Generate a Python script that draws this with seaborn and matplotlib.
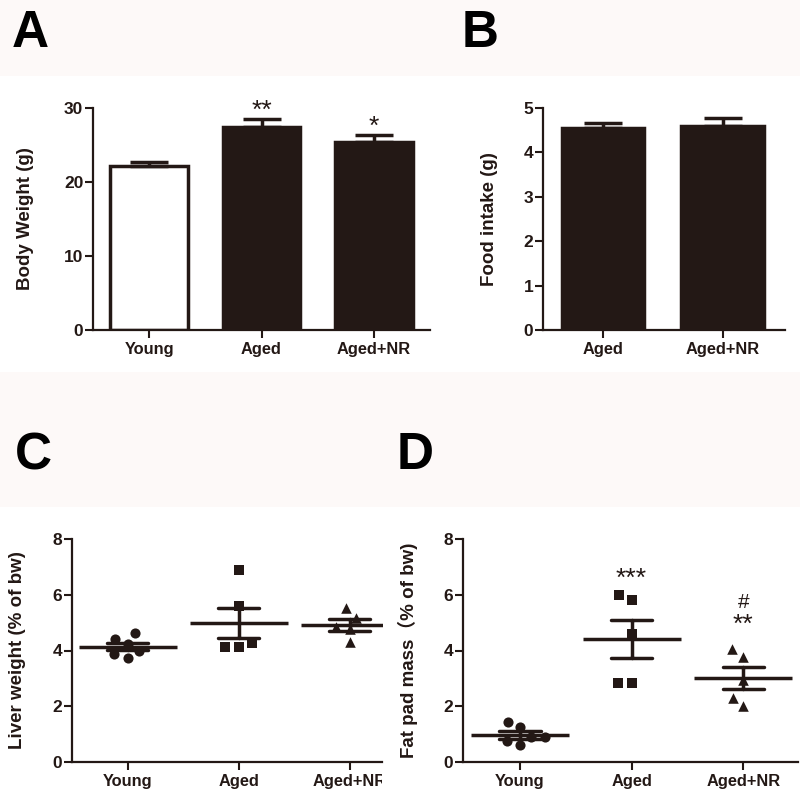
import numpy as np
import pandas as pd
import matplotlib
matplotlib.use("Agg")
import matplotlib.pyplot as plt
import seaborn as sns
from matplotlib.patches import Rectangle
from matplotlib.transforms import Bbox

# ---------------- data ----------------
groups = ["Young", "Aged", "Aged+NR"]
body_weight_mean = [22.2, 27.4, 25.4]
body_weight_sem = [0.5, 1.1, 1.0]
body_weight_sig = ["", "**", "*"]

food_groups = ["Aged", "Aged+NR"]
food_intake_mean = [4.56, 4.59]
food_intake_sem = [0.10, 0.19]

liver_young = [4.62, 4.41, 3.99, 3.74, 3.86, 4.22]
liver_aged = [6.87, 5.60, 4.26, 4.11, 4.14]
liver_aged_nr = [5.18, 5.52, 4.86, 4.76, 4.29]

fat_young = [1.44, 1.24, 0.88, 0.60, 0.76, 0.90]
fat_aged = [5.82, 6.00, 4.58, 2.84, 2.84]
fat_aged_nr = [3.78, 4.04, 2.94, 2.30, 2.01]
fat_sig_star = ["", "***", "**"]
fat_sig_hash = ["", "", "#"]

# ---------------- style ----------------
DARK = "#231815"
BAND = "#fdf9f8"
sns.set_theme(style="white")
plt.rcParams["font.family"] = ["Liberation Sans", "Noto Sans CJK SC", "DejaVu Sans"]
plt.rcParams["axes.edgecolor"] = DARK
plt.rcParams["text.color"] = DARK
plt.rcParams["xtick.color"] = DARK
plt.rcParams["ytick.color"] = DARK

W = H = 800
fig = plt.figure(figsize=(8, 8), dpi=100)
fig.patch.set_facecolor("white")

fig.add_artist(Rectangle((0, 1 - 76 / H), 1, 76 / H, transform=fig.transFigure,
                         facecolor=BAND, edgecolor="none", zorder=0))
fig.add_artist(Rectangle((0, 1 - 507 / H), 1, (507 - 372) / H, transform=fig.transFigure,
                         facecolor=BAND, edgecolor="none", zorder=0))


def add_ax(l, t, r, b):
    ax = fig.add_axes([l / W, 1 - b / H, (r - l) / W, (b - t) / H])
    ax.set_facecolor("none")
    return ax


def style_ax(ax, ylabel, label_right_px, l, r):
    sns.despine(ax=ax)
    for s in ("left", "bottom"):
        ax.spines[s].set_linewidth(1.6)
        ax.spines[s].set_color(DARK)
    ax.tick_params(axis="both", direction="out", length=5.5, width=1.5, color=DARK)
    ax.tick_params(axis="y", labelsize=12.5, pad=1.5, left=True)
    ax.tick_params(axis="x", labelsize=11.8, pad=3, bottom=True)
    for t in ax.get_xticklabels() + ax.get_yticklabels():
        t.set_fontweight("bold")
        t.set_color(DARK)
    ax.set_xlabel("")
    ax.set_ylabel(ylabel, fontsize=13.5, fontweight="bold", color=DARK)
    ax.yaxis.set_label_coords((label_right_px - l) / (r - l), 0.5)


def bar_panel(ax, cats, means, sems, fills):
    sns.barplot(x=cats, y=means, hue=cats, palette=fills, order=cats,
                edgecolor=DARK, linewidth=2.5, width=0.69, legend=False,
                errorbar=None, ax=ax, saturation=1)
    xs = [p.get_x() + p.get_width() / 2 for p in ax.patches]
    ax.errorbar(xs, means, yerr=[np.zeros(len(sems)), sems], fmt="none",
                ecolor=DARK, elinewidth=2.5, capsize=14, capthick=2.5, zorder=1)


def annotate(ax, x, y, s, fs):
    ax.annotate(s, xy=(x, y), xytext=(0, -0.39 * fs), textcoords="offset points",
                ha="center", va="baseline", fontsize=fs, color=DARK, annotation_clip=False)


def scatter_panel(ax, data_lists):
    df = pd.concat([pd.DataFrame({"group": g, "value": v}) for g, v in zip(groups, data_lists)])
    for g, v, m, sz in zip(groups, data_lists, ["o", "s", "^"], [7.3, 6.6, 7.6]):
        sub = pd.DataFrame({"group": g, "value": v})
        # an invisible edge widens the spacing of the swarm columns
        sns.swarmplot(data=sub, x="group", y="value", order=groups, marker=m,
                      color=DARK, size=sz, linewidth=9.4 - sz,
                      edgecolor=(1, 1, 1, 0), ax=ax)
    sns.pointplot(data=df, x="group", y="value", order=groups, errorbar="se",
                  capsize=0.37, linestyle="none", marker="_", markersize=70,
                  markeredgewidth=2.5, color=DARK, err_kws={"linewidth": 2.5}, ax=ax)


# ---------------- Panel A ----------------
LA, TA, RA, BA = 93, 108, 430, 330
axA = add_ax(LA, TA, RA, BA)
bar_panel(axA, groups, body_weight_mean, body_weight_sem, ["white", DARK, DARK])
axA.set_ylim(0, 30)
axA.set_xlim(-0.5, 2.5)
axA.set_yticks([0, 10, 20, 30])
for i, s in enumerate(body_weight_sig):
    if s:
        annotate(axA, i, body_weight_mean[i] + body_weight_sem[i] + 1.5, s, 19)
style_ax(axA, "Body Weight (g)", 34, LA, RA)

# ---------------- Panel B ----------------
LB, TB, RB, BB = 543, 108, 785, 330
axB = add_ax(LB, TB, RB, BB)
bar_panel(axB, food_groups, food_intake_mean, food_intake_sem, [DARK, DARK])
axB.set_ylim(0, 5)
axB.set_xlim(-0.5, 1.52)
axB.set_yticks([0, 1, 2, 3, 4, 5])
style_ax(axB, "Food intake (g)", 498, LB, RB)

# ---------------- Panel C ----------------
LC, TC, RC, BC = 72, 539, 382, 762
axC = add_ax(LC, TC, RC, BC)
scatter_panel(axC, [liver_young, liver_aged, liver_aged_nr])
axC.set_ylim(0, 8)
axC.set_xlim(-0.5, 2.29)
axC.set_yticks([0, 2, 4, 6, 8])
style_ax(axC, "Liver weight (% of bw)", 26, LC, RC)

# ---------------- Panel D ----------------
LD, TD, RD, BD = 463, 539, 798, 762
axD = add_ax(LD, TD, RD, BD)
fat_lists = [fat_young, fat_aged, fat_aged_nr]
scatter_panel(axD, fat_lists)
axD.set_ylim(0, 8)
axD.set_xlim(-0.51, 2.49)
axD.set_yticks([0, 2, 4, 6, 8])
for i in range(3):
    top = max(fat_lists[i])
    if fat_sig_star[i]:
        annotate(axD, i, top + (0.7 if i == 1 else 0.98), fat_sig_star[i], 19)
    if fat_sig_hash[i]:
        axD.annotate(fat_sig_hash[i], xy=(i, top + 1.69), ha="center", va="center",
                     fontsize=15, color=DARK, annotation_clip=False)
style_ax(axD, "Fat pad mass（% of bw)", 418, LD, RD)

# ---------------- panel letters ----------------
for letter, x, y in [("A", 12, 47), ("B", 462, 47), ("C", 15, 469), ("D", 397, 469)]:
    fig.text(x / W, 1 - y / H, letter, fontsize=37, fontweight="bold", color="black",
             ha="left", va="baseline")

fig.canvas.draw()
clip = Bbox.from_extents(0, 0, RC, H)
for t in axC.get_xticklabels():
    t.set_clip_box(clip)
    t.set_clip_on(True)

fig.savefig("out.png", dpi=100, facecolor="white")
